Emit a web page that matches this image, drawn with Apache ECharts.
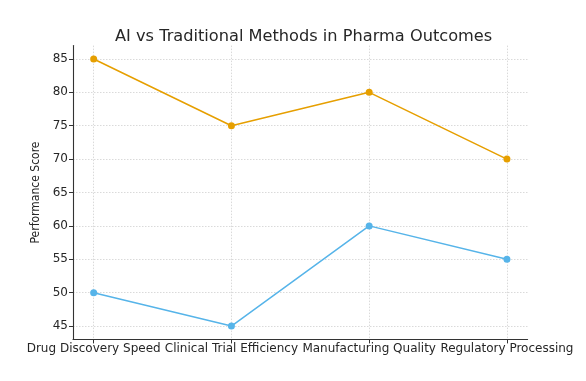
<!DOCTYPE html>
<html>
<head>
<meta charset="utf-8">
<script src="https://cdn.jsdelivr.net/npm/echarts@6/dist/echarts.min.js"></script>
<style>html,body{margin:0;padding:0;background:#fff}#c{width:586px;height:381px}</style>
</head>
<body>
<div id="c"></div>
<script>
const categories = ["Drug Discovery Speed", "Clinical Trial Efficiency", "Manufacturing Quality", "Regulatory Processing"];
const aiValues = [85, 75, 80, 70];
const traditionalValues = [50, 45, 60, 55];
const yTicks = [45, 50, 55, 60, 65, 70, 75, 80, 85];
const xTicks = [0, 1, 2, 3];

const chart = echarts.init(document.getElementById('c'), null, {renderer: 'canvas'});
const font = 'DejaVu Sans';
const gridLine = {show: true, lineStyle: {color: '#d0d0d0', type: [1.5, 1.5], width: 0.8}};
chart.setOption({
  animation: false,
  backgroundColor: '#fff',
  title: {
    text: 'AI vs Traditional Methods in Pharma Outcomes',
    left: 110, top: 24,
    textStyle: {fontFamily: font, fontSize: 16.2, fontWeight: 'normal', color: '#262626'}
  },
  grid: {left: 73, right: 58.4, top: 45.6, bottom: 41.6, containLabel: false},
  xAxis: {
    type: 'value', min: -0.15, max: 3.15,
    axisLine: {show: true, onZero: false, lineStyle: {color: '#333', width: 1.1}},
    axisTick: {show: true, length: 4, customValues: xTicks, lineStyle: {color: '#333'}},
    axisLabel: {customValues: xTicks, formatter: v => categories[Math.round(v)] || '', fontFamily: font, fontSize: 12, color: '#262626', margin: 3},
    splitLine: gridLine
  },
  yAxis: {
    type: 'value', min: 43, max: 87,
    name: 'Performance Score', nameLocation: 'middle', nameGap: 20,
    nameTextStyle: {fontFamily: 'DejaVu Sans Condensed', fontSize: 12, color: '#262626'},
    axisLine: {show: true, onZero: false, lineStyle: {color: '#333', width: 1.1}},
    axisTick: {show: true, length: 4, customValues: yTicks, lineStyle: {color: '#333'}},
    axisLabel: {customValues: yTicks, fontFamily: font, fontSize: 12, color: '#262626', margin: 5},
    splitLine: gridLine
  },
  series: [
    {type: 'line', name: 'AI', data: aiValues.map((v, i) => [xTicks[i], v]), color: '#E69F00',
     symbol: 'circle', symbolSize: 7, lineStyle: {width: 1.5}},
    {type: 'line', name: 'Traditional', data: traditionalValues.map((v, i) => [xTicks[i], v]), color: '#56B4E9',
     symbol: 'circle', symbolSize: 7, lineStyle: {width: 1.5}}
  ]
});
</script>
</body>
</html>
